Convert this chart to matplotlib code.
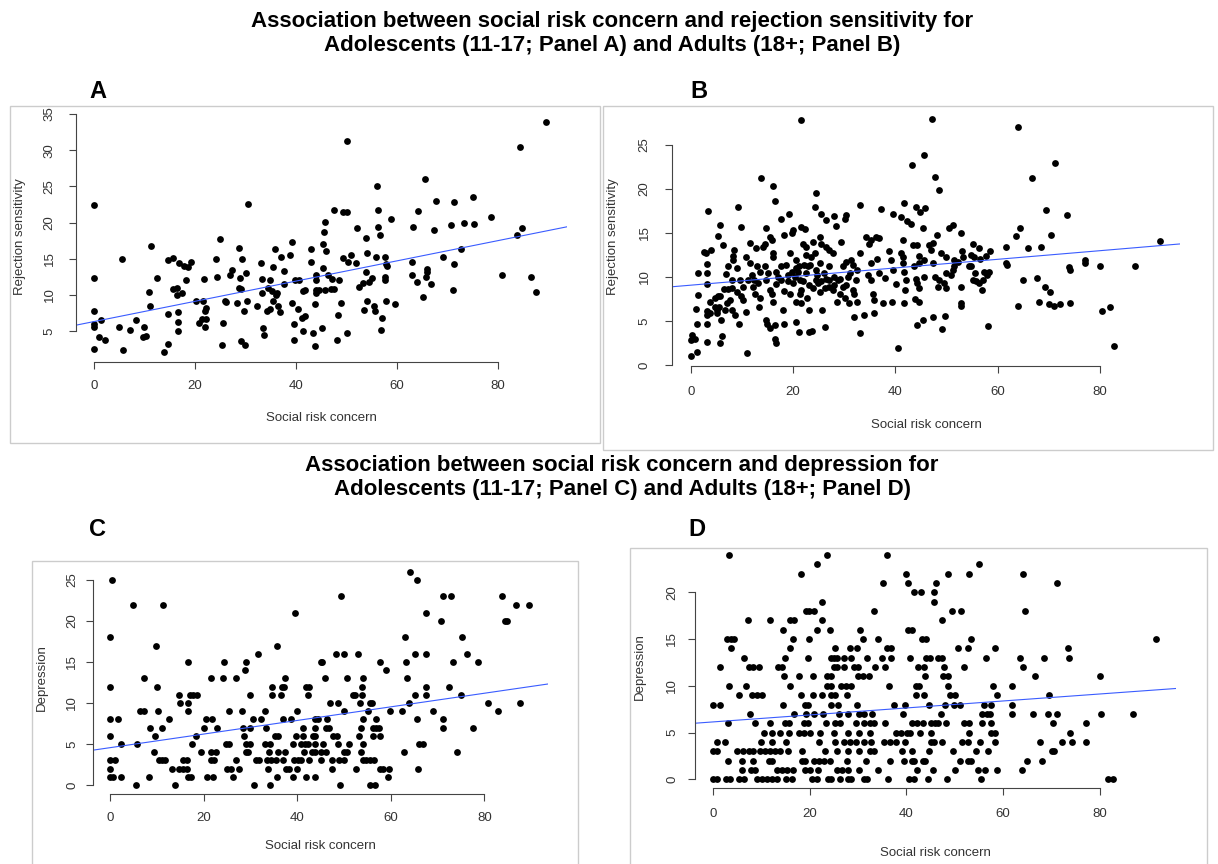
import numpy as np
import matplotlib.pyplot as plt
from matplotlib.patches import Rectangle

plt.rcParams['font.family'] = ['Liberation Sans', 'DejaVu Sans']

W, H = 1218, 864

# (social risk concern, rejection sensitivity) - adolescents 11-17
teen_rs = [
    (0, 22.4), (0, 12.3), (0, 7.7), (0, 6.0), (0, 5.5), (0, 2.5), (1.4, 6.5), (0.9, 4.1), (2.1, 3.7),
    (4.9, 5.5), (5.5, 15.0), (5.7, 2.4), (7.2, 5.2), (8.4, 6.5), (9.7, 4.1), (10.3, 4.3), (10.0, 5.5),
    (10.9, 10.4), (11.0, 8.5), (11.3, 16.8), (12.4, 12.3), (13.8, 2.1), (14.6, 14.8), (14.7, 7.3),
    (14.7, 3.2), (15.6, 15.1), (15.7, 10.8), (16.4, 11.0), (16.4, 10.0), (16.7, 7.6), (16.7, 6.2),
    (16.7, 5.0), (16.9, 14.4), (17.4, 10.2), (17.8, 14.0), (18.6, 13.8), (19.3, 14.6), (18.3, 12.0),
    (20.2, 9.2), (20.8, 6.1), (21.4, 6.7), (21.8, 12.2), (21.6, 9.2), (22.0, 7.8), (22.1, 8.2),
    (22.2, 6.6), (22.0, 5.6), (24.1, 15.0), (24.3, 12.5), (24.9, 17.7), (25.3, 3.1), (25.6, 6.1),
    (25.9, 9.2), (26.2, 9.0), (26.9, 12.8), (27.3, 13.5), (28.3, 8.8), (28.8, 16.5), (28.8, 11.0),
    (29.1, 10.8), (28.9, 12.3), (29.2, 3.6), (29.3, 15.0), (29.8, 7.7), (30.0, 3.0), (30.1, 13.0),
    (30.4, 22.6), (30.2, 9.1), (32.2, 8.5), (33.0, 14.4), (33.3, 12.2), (33.3, 10.2), (33.4, 5.4),
    (33.7, 4.5), (34.2, 7.7), (34.5, 10.9), (34.8, 12.0), (34.8, 8.1), (35.2, 10.5), (35.5, 13.9),
    (35.5, 9.1), (35.8, 16.3), (36.0, 10.0), (36.2, 10.3), (36.5, 8.4), (36.8, 7.6), (37.0, 15.3),
    (37.7, 11.5), (37.6, 13.3), (38.8, 15.5), (39.2, 17.3), (39.3, 8.8), (39.7, 3.7), (39.7, 6.0),
    (39.8, 12.0), (40.3, 8.0), (40.5, 12.0), (41.1, 6.8), (41.3, 10.5), (41.4, 5.0), (41.8, 10.6),
    (41.8, 7.1), (43.3, 4.7), (43.8, 2.9), (43.8, 8.7), (43.9, 10.2), (43.9, 10.7), (43.9, 12.1),
    (44.0, 12.8), (42.9, 14.5), (42.9, 16.4), (44.6, 10.7), (45.1, 5.4), (45.3, 13.7), (45.3, 17.1),
    (45.5, 18.7), (45.7, 20.1), (46.0, 16.0), (45.8, 10.7), (46.4, 12.8), (46.9, 10.8), (47.2, 12.2),
    (47.5, 10.8), (47.6, 21.8), (48.3, 7.2), (48.2, 3.8), (48.6, 12.1), (49.0, 8.9), (49.3, 21.4),
    (50.0, 21.5), (49.3, 15.1), (50.0, 4.7), (50.1, 31.3), (50.2, 14.5), (50.9, 15.5), (51.8, 14.4),
    (52.1, 19.2), (52.5, 11.1), (53.2, 11.6), (53.4, 7.9), (53.8, 13.1), (53.8, 17.8), (54.1, 9.1),
    (54.1, 15.8), (54.5, 11.8), (55.1, 12.3), (55.4, 8.4), (55.6, 7.7), (55.8, 15.2), (56.1, 25.0),
    (56.3, 21.8), (56.3, 19.4), (56.7, 18.3), (57.0, 6.8), (56.8, 5.2), (57.6, 15.2), (57.6, 12.5),
    (57.6, 12.1), (57.9, 14.3), (58.1, 14.0), (57.8, 9.2), (58.9, 20.5), (59.7, 8.7), (63.0, 14.5),
    (62.9, 12.8), (63.2, 19.4), (63.9, 11.8), (64.1, 21.6), (65.2, 9.7), (65.5, 26.0), (65.9, 13.6),
    (65.9, 13.1), (65.7, 12.5), (66.7, 11.5), (67.4, 18.9), (67.7, 23.0), (69.1, 15.3), (70.7, 19.6),
    (71.0, 10.7), (71.2, 14.2), (71.2, 22.8), (72.6, 16.3), (73.2, 20.0), (75.0, 23.5), (75.2, 19.8),
    (78.6, 20.8), (80.7, 12.7), (83.8, 18.3), (84.3, 30.4), (84.7, 19.3), (86.6, 12.5), (87.5, 10.4),
    (89.6, 33.9),
]

# (social risk concern, rejection sensitivity) - adults 18+
adult_rs = [
    (21.5, 27.8), (13.8, 21.3), (16.1, 20.3), (16.4, 18.6), (3.3, 17.5), (9.2, 18.0), (24.4, 19.6),
    (24.2, 18.0), (19.2, 17.2), (17.7, 16.6), (33.0, 18.2), (37.2, 17.7), (41.6, 18.4), (39.5, 17.2),
    (41.1, 16.8), (30.3, 17.1), (30.1, 16.6), (25.5, 17.2), (26.5, 16.5), (28.0, 16.9), (28.4, 15.8),
    (5.8, 15.9), (9.9, 15.7), (5.3, 14.7), (6.4, 13.6), (3.9, 13.1), (2.5, 12.8), (2.9, 12.7),
    (3.1, 11.5), (3.1, 10.4), (1.4, 10.4), (1.4, 8.0), (3.1, 9.2), (1.0, 6.4), (1.2, 4.7), (3.1, 4.7),
    (3.1, 2.6), (0.2, 3.4), (0.8, 3.0), (0.0, 2.8), (1.2, 1.5), (0.0, 1.0), (5.2, 5.9), (5.1, 6.3),
    (5.6, 6.6), (3.8, 7.2), (4.7, 7.6), (5.4, 7.8), (3.8, 5.9), (3.2, 6.1), (3.2, 5.7), (5.9, 5.1),
    (6.2, 3.3), (5.7, 2.5), (6.7, 6.3), (7.0, 7.0), (7.7, 7.4), (8.0, 6.3), (6.5, 8.6), (7.3, 8.6),
    (6.9, 10.3), (7.3, 11.3), (8.3, 12.4), (8.5, 13.1), (8.3, 11.9), (9.0, 11.0), (9.0, 8.3),
    (8.6, 5.7), (9.5, 4.7), (9.6, 9.7), (9.9, 7.8), (10.3, 7.4), (10.9, 6.0), (11.0, 1.4),
    (11.6, 13.9), (11.6, 11.6), (11.9, 10.2), (12.3, 9.7), (12.2, 8.9), (12.7, 13.3), (12.9, 11.2),
    (13.2, 9.3), (13.4, 6.6), (13.5, 7.6), (14.2, 13.4), (14.5, 13.8), (14.5, 11.2), (14.8, 9.7),
    (15.1, 10.4), (14.8, 15.6), (15.5, 14.6), (15.8, 14.2), (14.8, 5.1), (15.0, 4.7), (15.5, 4.2),
    (16.0, 12.7), (16.1, 12.3), (15.5, 8.5), (15.8, 8.1), (16.1, 7.2), (16.4, 3.0), (16.6, 2.5),
    (16.4, 4.5), (16.6, 9.2), (16.6, 10.6), (17.7, 11.2), (18.1, 6.3), (18.2, 8.4), (18.2, 4.7),
    (18.2, 14.8), (19.0, 9.5), (19.0, 10.2), (19.4, 8.1), (19.5, 12.7), (19.7, 15.0), (20.0, 15.3),
    (19.8, 10.6), (20.0, 9.3), (20.5, 4.9), (20.5, 7.2), (20.6, 11.0), (21.2, 11.2), (21.1, 3.8),
    (21.3, 9.7), (21.3, 8.1), (21.5, 7.0), (21.6, 15.7), (22.3, 15.5), (21.9, 13.8), (22.1, 11.4),
    (22.5, 13.4), (22.6, 12.5), (22.6, 10.4), (22.9, 11.2), (22.7, 7.6), (23.2, 6.3), (23.1, 3.8),
    (23.7, 3.9), (23.6, 12.3), (24.2, 12.7), (23.9, 14.0), (24.4, 10.8), (24.5, 9.7), (24.9, 9.3),
    (25.2, 8.3), (25.2, 14.6), (25.5, 13.8), (25.2, 11.6), (25.7, 6.3), (26.0, 10.4), (26.5, 9.8),
    (26.2, 4.3), (26.5, 13.4), (27.0, 13.1), (27.1, 11.2), (27.1, 8.9), (27.8, 8.5), (27.8, 12.7),
    (28.1, 10.0), (28.8, 9.7), (28.6, 7.2), (29.1, 8.1), (29.3, 14.0), (29.7, 11.2), (30.4, 11.7),
    (29.7, 8.9), (30.1, 7.6), (30.7, 10.0), (31.0, 7.0), (31.3, 11.9), (31.7, 11.4), (31.7, 8.5),
    (32.0, 8.1), (32.3, 9.7), (32.5, 7.2), (32.0, 5.4), (32.6, 10.8), (33.0, 12.7), (33.0, 3.6),
    (33.9, 5.7), (34.3, 14.6), (34.9, 13.8), (35.3, 14.2), (34.6, 10.2), (35.3, 9.7), (35.6, 8.1),
    (35.9, 7.4), (35.9, 5.9), (35.3, 11.6), (36.2, 14.6), (36.8, 14.4), (36.4, 12.1), (36.9, 10.4),
    (37.5, 7.1), (37.9, 9.9), (38.8, 12.9), (39.2, 11.9), (39.5, 10.8), (39.3, 7.2), (40.1, 9.2),
    (40.6, 1.9), (41.1, 12.7), (41.5, 12.3), (41.4, 11.6), (41.7, 10.6), (42.1, 9.7), (41.6, 7.1),
    (41.9, 8.5), (41.4, 14.2), (42.2, 16.4),
    (20.3, 10.0), (21.0, 10.6), (21.9, 9.5), (23.1, 9.1), (23.9, 8.7), (24.7, 10.2), (25.5, 9.5),
    (26.2, 8.7), (27.1, 9.7), (28.1, 9.1), (29.1, 9.8), (30.4, 9.1), (31.2, 10.4), (23.4, 11.4),
    (21.6, 8.5), (20.5, 11.9), (18.7, 11.4), (17.7, 9.7), (17.1, 10.0), (13.5, 10.6), (12.5, 8.1),
    (11.2, 9.7), (10.9, 12.3), (10.3, 8.9), (8.0, 9.7), (8.0, 8.7), (5.7, 7.8), (4.7, 6.6),
    (47.2, 28.0), (63.9, 27.0), (45.6, 23.9), (43.2, 22.7), (71.2, 22.9), (47.7, 21.4), (66.7, 21.2),
    (48.6, 19.9), (44.0, 17.9), (44.8, 17.4), (45.8, 17.8), (69.5, 17.6), (73.6, 17.1), (43.1, 16.0),
    (45.5, 15.6), (50.5, 15.6), (51.2, 15.9), (52.9, 15.0), (48.2, 14.8), (63.5, 14.7), (64.4, 15.6),
    (70.5, 14.8), (43.4, 13.6), (44.3, 13.6), (46.5, 13.6), (47.3, 13.9), (47.0, 13.1), (55.1, 13.7),
    (56.4, 13.3), (61.6, 13.4), (66.0, 13.3), (68.5, 13.4), (91.8, 14.1), (44.6, 12.4), (45.6, 11.9),
    (43.6, 11.2), (44.6, 11.6), (47.3, 11.6), (48.9, 12.7), (49.9, 12.3), (51.5, 11.9), (52.2, 11.7),
    (53.1, 12.9), (53.3, 12.3), (54.8, 12.5), (55.4, 12.3), (56.6, 12.1), (57.8, 12.4), (58.5, 12.9),
    (61.6, 11.6), (61.8, 11.4), (54.3, 11.3), (51.5, 11.2), (51.2, 10.8), (49.9, 10.4), (44.0, 9.8),
    (44.3, 9.3), (44.6, 8.7), (45.6, 10.0), (47.8, 10.0), (48.6, 9.7), (48.3, 8.9), (49.5, 9.3),
    (49.9, 8.7), (50.8, 10.2), (52.8, 8.9), (54.8, 11.2), (55.1, 9.7), (55.8, 9.5), (56.4, 9.3),
    (55.6, 10.4), (57.4, 10.6), (58.0, 10.2), (58.4, 10.6), (57.2, 9.7), (56.9, 8.5), (43.9, 7.5),
    (44.6, 7.2), (52.8, 7.1), (52.9, 6.7), (65.0, 9.7), (67.7, 9.9), (69.2, 8.9), (70.3, 8.3),
    (74.0, 11.1), (74.1, 10.8), (77.1, 11.9), (77.1, 11.6), (80.1, 11.3), (86.8, 11.3), (63.9, 6.7),
    (68.0, 7.2), (70.1, 6.9), (71.1, 6.7), (72.1, 6.9), (74.2, 7.0), (80.3, 6.1), (81.9, 6.6),
    (82.8, 2.2), (44.3, 4.5), (45.4, 5.1), (47.3, 5.4), (49.7, 5.6), (49.2, 4.1), (58.1, 4.4),
]

# (social risk concern, depression) - adolescents 11-17
teen_dep = [
    (0.4, 25), (0, 18), (0, 12), (0, 8), (0, 6), (0, 3), (1.1, 3), (0, 2), (0, 1), (0.6, 1), (1.6, 8),
    (2.3, 5), (2.4, 1), (5.0, 22), (5.5, 0), (5.8, 5), (6.4, 9), (7.3, 9), (7.3, 13), (8.4, 1),
    (8.5, 7), (9.3, 4), (9.7, 6), (9.8, 17), (10.0, 12), (10.3, 9), (10.5, 3), (11.2, 3), (11.7, 3),
    (11.0, 7), (11.4, 22), (12.6, 8), (13.2, 2), (13.9, 0), (14.7, 11), (14.9, 10), (14.7, 2),
    (15.5, 2), (16.4, 2), (15.5, 3), (16.4, 3), (16.7, 15), (16.7, 10), (16.7, 9), (16.7, 1),
    (17.4, 1), (17.1, 11), (17.8, 11), (18.6, 11), (17.5, 5), (18.3, 6), (19.4, 4), (20.1, 7),
    (20.6, 8), (21.8, 8), (20.8, 1), (22.1, 1), (21.6, 13), (21.5, 4), (22.6, 4), (21.6, 3),
    (22.2, 3), (22.8, 7), (24.3, 15), (24.2, 13), (24.8, 5), (25.5, 5), (25.5, 9), (24.9, 2),
    (25.8, 2), (26.3, 1), (27.0, 13), (27.0, 3), (27.5, 2), (28.3, 9), (28.5, 7), (28.8, 14),
    (29.1, 15), (28.7, 6), (29.1, 5), (30.0, 5), (29.0, 4), (29.5, 4), (29.9, 11), (30.0, 7),
    (30.6, 8), (30.8, 0), (31.1, 3), (31.9, 3), (31.7, 16), (32.2, 8), (33.2, 9), (33.3, 7),
    (33.2, 5), (34.2, 5), (33.5, 3), (34.5, 3), (35.4, 3), (33.7, 2), (34.2, 0), (34.0, 4),
    (34.6, 12), (34.7, 11), (35.6, 17), (35.2, 6), (35.9, 6), (35.8, 4), (35.6, 1), (36.5, 11),
    (36.8, 12), (37.2, 12), (36.9, 8), (37.4, 13), (37.0, 3), (37.4, 4), (37.6, 2), (38.3, 2),
    (38.7, 8), (39.1, 5), (39.0, 1), (39.6, 21), (39.7, 6), (40.0, 9), (39.4, 3), (40.2, 3),
    (40.9, 3), (39.9, 2), (40.9, 5), (41.6, 5), (42.3, 5), (41.3, 7), (41.3, 6), (41.5, 4),
    (41.9, 12), (42.5, 12), (42.3, 11), (41.9, 1),
    (64.1, 26), (65.5, 25), (49.3, 23), (71.2, 23), (72.9, 23), (83.7, 23), (86.7, 22), (89.6, 22),
    (67.6, 21), (70.7, 20), (84.4, 20), (84.9, 20), (63.1, 18), (75.3, 18), (48.2, 16), (49.9, 16),
    (52.9, 16), (65.2, 16), (67.5, 16), (76.2, 16), (45.1, 15), (45.4, 15), (57.6, 15), (63.2, 15),
    (73.2, 15), (78.7, 15), (58.9, 14), (46.0, 13), (50.6, 13), (54.1, 13), (63.4, 13), (53.9, 12),
    (67.6, 12), (72.5, 12), (51.9, 11), (52.3, 11), (53.9, 11), (65.1, 11), (67.6, 11), (75.1, 11),
    (47.1, 10), (48.7, 10), (53.4, 10), (55.5, 10), (55.9, 10), (63.9, 10), (80.7, 10), (87.6, 10),
    (50.0, 9), (55.1, 9), (59.8, 9), (62.5, 9), (69.1, 9), (82.9, 9), (43.7, 8), (44.4, 8),
    (46.4, 8), (54.1, 8), (56.9, 8), (65.6, 8), (71.2, 8), (43.7, 7), (46.2, 7), (46.9, 7),
    (53.6, 7), (56.1, 7), (56.8, 7), (57.5, 7), (71.1, 7), (77.6, 7), (43.4, 6), (43.7, 6),
    (47.6, 6), (48.4, 6), (53.2, 6), (56.2, 6), (57.6, 6), (43.7, 5), (45.5, 5), (48.7, 5),
    (51.1, 5), (54.1, 5), (66.0, 5), (66.8, 5), (43.2, 4), (43.9, 4), (45.1, 4), (46.1, 4),
    (50.0, 4), (50.7, 4), (53.7, 4), (62.9, 4), (74.1, 4), (42.6, 3), (45.1, 3), (47.5, 3),
    (48.9, 3), (50.0, 3), (54.1, 3), (54.8, 3), (55.5, 3), (56.4, 3), (47.4, 2), (52.5, 2),
    (57.6, 2), (58.4, 2), (59.6, 2), (65.9, 2), (43.9, 1), (59.4, 1), (49.1, 0), (55.6, 0),
    (56.7, 0),
]

# (social risk concern, depression) - adults 18+
adult_dep = [
    (3.3, 24), (23.5, 24), (35.9, 24), (21.5, 23), (18.2, 22), (39.8, 22), (35.2, 21), (40.3, 21),
    (22.6, 19), (19.1, 18), (19.8, 18), (20.8, 18), (33.2, 18), (7.1, 17), (11.7, 17), (15.8, 17),
    (16.7, 17), (22.6, 17), (14.4, 16), (21.5, 16), (24.2, 16), (30.3, 16), (40.3, 16), (2.8, 15),
    (3.6, 15), (4.3, 15), (16.5, 15), (19.8, 15), (31.0, 15), (34.2, 15), (3.6, 14), (15.8, 14),
    (25.2, 14), (28.3, 14), (29.7, 14), (35.9, 14), (36.9, 14), (6.4, 13), (14.9, 13), (19.6, 13),
    (24.3, 13), (25.0, 13), (25.7, 13), (27.1, 13), (28.6, 13), (31.8, 13), (34.9, 13), (36.7, 13),
    (40.8, 13), (1.3, 12), (7.3, 12), (8.3, 12), (9.4, 12), (13.5, 12), (14.2, 12), (24.9, 12),
    (25.7, 12), (27.1, 12), (29.2, 12), (30.0, 12), (33.5, 12), (35.5, 12), (14.7, 11), (17.7, 11),
    (20.6, 11), (23.6, 11), (24.4, 11), (29.9, 11), (30.9, 11), (32.3, 11), (3.3, 10), (6.8, 10),
    (15.8, 10), (23.6, 10), (24.3, 10), (26.5, 10), (27.4, 10), (28.6, 10), (36.3, 10), (5.4, 9),
    (8.0, 9), (9.0, 9), (10.1, 9), (18.2, 9), (20.6, 9), (22.6, 9), (24.3, 9), (25.3, 9), (27.6, 9),
    (0, 8), (1.3, 8), (14.4, 8), (18.9, 8), (19.6, 8), (24.3, 8), (25.9, 8), (29.7, 8), (37.5, 8),
    (39.7, 8), (7.6, 7), (16.7, 7), (19.2, 7), (20.8, 7), (22.8, 7), (26.0, 7), (27.8, 7), (30.2, 7),
    (31.3, 7), (32.8, 7), (39.2, 7), (3.0, 6), (8.7, 6), (11.7, 6), (14.9, 6), (15.6, 6), (18.8, 6),
    (19.6, 6), (23.3, 6), (25.3, 6), (26.3, 6), (29.5, 6), (31.3, 6), (32.5, 6), (33.2, 6), (35.6, 6),
    (10.4, 5), (12.2, 5), (13.8, 5), (15.6, 5), (17.7, 5), (18.8, 5), (20.1, 5), (22.2, 5), (25.0, 5),
    (27.8, 5), (30.2, 5), (32.5, 5), (37.8, 5), (38.9, 5), (0.8, 4), (2.4, 4), (9.9, 4), (12.2, 4),
    (15.1, 4), (21.9, 4), (25.3, 4), (27.1, 4), (28.3, 4), (29.5, 4), (31.3, 4), (32.6, 4), (35.3, 4),
    (36.5, 4), (37.8, 4), (39.6, 4), (0, 3), (0.8, 3), (5.0, 3), (6.1, 3), (7.3, 3), (8.3, 3),
    (9.7, 3), (10.8, 3), (11.8, 3), (12.8, 3), (13.9, 3), (15.4, 3), (18.4, 3), (23.1, 3), (25.7, 3),
    (27.9, 3), (30.2, 3), (32.5, 3), (33.2, 3), (39.0, 3), (3.1, 2), (6.0, 2), (8.3, 2), (11.5, 2),
    (12.2, 2), (18.3, 2), (18.9, 2), (20.8, 2), (21.9, 2), (22.9, 2), (24.2, 2), (27.6, 2), (31.7, 2),
    (36.6, 2), (39.4, 2), (6.0, 1), (7.8, 1), (8.7, 1), (13.2, 1), (14.2, 1), (15.3, 1), (16.5, 1),
    (18.9, 1), (20.0, 1), (21.7, 1), (25.7, 1), (26.7, 1), (27.9, 1), (30.1, 1), (34.2, 1), (0, 0),
    (0.8, 0), (2.6, 0), (3.5, 0), (5.4, 0), (6.4, 0), (9.0, 0), (10.1, 0), (11.1, 0), (12.2, 0),
    (13.1, 0), (15.1, 0), (16.3, 0), (20.5, 0), (21.4, 0), (23.8, 0), (24.3, 0), (26.3, 0), (27.8, 0),
    (28.6, 0), (31.3, 0), (31.9, 0), (36.1, 0), (40.6, 0),
    (55.0, 23), (48.7, 22), (53.0, 22), (64.2, 22), (71.2, 21), (43.0, 20), (41.6, 20), (45.6, 20),
    (46.1, 21), (45.6, 19), (47.3, 17), (49.4, 18), (51.2, 18), (64.5, 18), (41.1, 16), (43.2, 15),
    (44.1, 15), (53.3, 15), (91.7, 15), (50.6, 14), (52.8, 14), (58.3, 14), (73.5, 14), (44.1, 13),
    (44.9, 13), (46.6, 13), (47.4, 13), (56.5, 13), (63.5, 13), (68.5, 13), (73.7, 13), (42.3, 12),
    (43.7, 12), (47.7, 12), (52.0, 12), (64.1, 12), (43.8, 11), (47.5, 11), (48.7, 11), (66.6, 11),
    (80.0, 11), (42.0, 10), (42.5, 10), (48.7, 10), (57.9, 10), (61.9, 10), (42.0, 9), (43.7, 9),
    (49.0, 9), (50.1, 9), (58.7, 9), (69.5, 9), (44.6, 8), (47.9, 8), (49.9, 8), (51.1, 8), (56.1, 8),
    (57.5, 8), (61.9, 8), (47.1, 7), (55.7, 7), (56.6, 7), (57.3, 7), (61.8, 7), (66.1, 7), (69.2, 7),
    (71.2, 7), (80.2, 7), (86.8, 7), (41.1, 6), (42.1, 6), (43.4, 6), (45.0, 6), (45.9, 6), (46.6, 6),
    (48.1, 6), (52.0, 6), (53.0, 6), (55.6, 6), (57.4, 6), (70.3, 6), (77.1, 6), (40.2, 5), (40.8, 5),
    (42.8, 5), (45.1, 5), (53.0, 5), (57.4, 5), (58.3, 5), (73.9, 5), (45.0, 4), (45.8, 4), (47.3, 4),
    (51.6, 4), (52.8, 4), (55.2, 4), (58.3, 4), (67.7, 4), (72.2, 4), (74.2, 4), (77.2, 4), (41.2, 3),
    (44.6, 3), (49.7, 3), (54.4, 3), (56.8, 3), (70.1, 3), (70.6, 3), (41.1, 2), (41.6, 2), (43.4, 2),
    (43.9, 2), (51.1, 2), (52.8, 2), (53.3, 2), (64.9, 2), (68.0, 2), (42.1, 1), (45.4, 1), (50.1, 1),
    (54.8, 1), (56.3, 1), (58.7, 1), (64.0, 1), (41.6, 0), (44.4, 0), (48.3, 0), (55.4, 0), (81.8, 0),
    (82.7, 0),
]

# regression lines (intercept, slope)
fit_teen_rs = (6.3, 0.14)
fit_adult_rs = (9.07, 0.049)
fit_teen_dep = (4.55, 0.083)
fit_adult_dep = (6.14, 0.0373)

x_ticks = [0, 20, 40, 60, 80]

panels = [
    dict(letter='A', data=teen_rs, fit=fit_teen_rs, ylabel='Rejection sensitivity',
         yticks=[5, 10, 15, 20, 25, 30, 35], xlim=(-3.6, 93.6), ylim=(0.72, 35.28),
         rect=(75.8, 112.1, 566.7, 361.9), frame=(10, 106, 600, 443), letter_xy=(98, 92),
         xlab_xy=(321, 418), ylab_xy=(20, 237), xpad=7.7, ypad=9.4),
    dict(letter='B', data=adult_rs, fit=fit_adult_rs, ylabel='Rejection sensitivity',
         yticks=[0, 5, 10, 15, 20, 25], xlim=(-3.7, 95.7), ylim=(-0.08, 29.08),
         rect=(671.8, 109.1, 1180.3, 365.7), frame=(603, 106, 1213, 450), letter_xy=(699, 92),
         xlab_xy=(926, 425), ylab_xy=(613, 237), xpad=9.9, ypad=10.2),
    dict(letter='C', data=teen_dep, fit=fit_teen_dep, ylabel='Depression',
         yticks=[0, 5, 10, 15, 20, 25], xlim=(-3.6, 93.6), ylim=(-1.04, 27.04),
         rect=(93.2, 563.3, 548.0, 793.5), frame=(32, 561, 578, 880), letter_xy=(98, 530),
         xlab_xy=(320, 846), ylab_xy=(42, 678), xpad=8.1, ypad=5.8),
    dict(letter='D', data=adult_dep, fit=fit_adult_dep, ylabel='Depression',
         yticks=[0, 5, 10, 15, 20], xlim=(-3.7, 95.7), ylim=(-0.96, 24.96),
         rect=(695.4, 545.9, 1175.5, 788.3), frame=(630, 548, 1207, 880), letter_xy=(697, 530),
         xlab_xy=(935, 853), ylab_xy=(640, 667), xpad=9.1, ypad=7.3),
]

titles = [
    ('Association between social risk concern and rejection sensitivity for', 612, 21),
    ('Adolescents (11-17; Panel A) and Adults (18+; Panel B)', 612, 45),
    ('Association between social risk concern and depression for', 622, 465),
    ('Adolescents (11-17; Panel C) and Adults (18+; Panel D)', 622, 490),
]

fig = plt.figure(figsize=(W / 100, H / 100), dpi=100)


def fx(x):
    return x / W


def fy(y):
    return 1 - y / H


for p in panels:
    l, t, r, b = p['frame']
    fig.patches.append(Rectangle((fx(l), fy(b)), fx(r - l), (b - t) / H, transform=fig.transFigure,
                                 fill=False, edgecolor='#cccccc', lw=1.0))

    l, t, r, b = p['rect']
    ax = fig.add_axes([fx(l), fy(b), fx(r - l), (b - t) / H])
    pts = np.array(p['data'], dtype=float)
    ax.plot(pts[:, 0], pts[:, 1], 'o', color='black', ms=4.9, mew=0)
    b0, m = p['fit']
    ax.axline((0, b0), slope=m, color='#3a5cff', lw=0.8)

    ax.set_xlim(p['xlim'])
    ax.set_ylim(p['ylim'])
    ax.set_xticks(x_ticks)
    ax.set_yticks(p['yticks'])
    for side in ['top', 'right']:
        ax.spines[side].set_visible(False)
    ax.spines['bottom'].set_bounds(x_ticks[0], x_ticks[-1])
    ax.spines['left'].set_bounds(p['yticks'][0], p['yticks'][-1])
    for side in ['bottom', 'left']:
        ax.spines[side].set_color('#444444')
        ax.spines[side].set_linewidth(0.8)
    ax.tick_params(axis='both', length=5, width=0.8, color='#444444', labelsize=9.5,
                   labelcolor='#333333')
    ax.tick_params(axis='x', pad=p['xpad'])
    ax.tick_params(axis='y', pad=p['ypad'])
    for lab in ax.get_yticklabels():
        lab.set_rotation(90)
        lab.set_va('center')
    ax.set_facecolor('none')

    fig.text(fx(p['xlab_xy'][0]), fy(p['xlab_xy'][1]), 'Social risk concern', ha='center',
             va='center', fontsize=9.5, color='#333333')
    fig.text(fx(p['ylab_xy'][0]), fy(p['ylab_xy'][1]), p['ylabel'], ha='center', va='center',
             rotation=90, fontsize=9.5, color='#333333')
    fig.text(fx(p['letter_xy'][0]), fy(p['letter_xy'][1]), p['letter'], ha='center', va='center',
             fontsize=17, fontweight='bold')

for s, x, y in titles:
    fig.text(fx(x), fy(y), s, ha='center', va='center', fontsize=16, fontweight='bold')

fig.savefig('out.png', dpi=100)
